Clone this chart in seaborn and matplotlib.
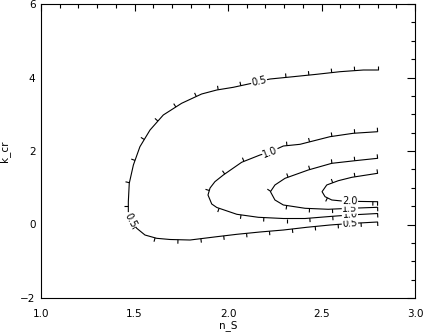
import numpy as np
import pandas as pd
import matplotlib
matplotlib.use("Agg")
import matplotlib.pyplot as plt
import seaborn as sns
from matplotlib.collections import LineCollection
from matplotlib.ticker import MultipleLocator

# ---- data: contour lines (n_S, k_cr) ----
levels = [0.5, 1.0, 1.5, 2.0]
level_labels = ["0.5", "1.0", "1.5", "2.0"]

c05_x = [2.800, 2.724, 2.599, 2.474, 2.349, 2.225, 2.166, 2.127, 2.028, 1.940, 1.859, 1.752,
         1.654, 1.583, 1.529, 1.494, 1.472, 1.467, 1.467, 1.481, 1.512, 1.556, 1.619, 1.690,
         1.797, 1.940, 2.047, 2.171, 2.296, 2.421, 2.545, 2.652, 2.800]
c05_y = [4.204, 4.204, 4.158, 4.087, 4.022, 3.959, 3.897, 3.842, 3.733, 3.660, 3.551, 3.298,
         2.980, 2.571, 2.117, 1.619, 1.121, 0.620, 0.348, 0.122, -0.103, -0.286, -0.376, -0.408,
         -0.422, -0.332, -0.267, -0.204, -0.150, -0.076, -0.014, 0.027, 0.068]

c10_x = [2.800, 2.670, 2.545, 2.385, 2.296, 2.225, 2.171, 2.073, 1.975, 1.930, 1.904, 1.893,
         1.913, 1.940, 2.047, 2.162, 2.296, 2.412, 2.545, 2.652, 2.800]
c10_y = [2.525, 2.482, 2.389, 2.182, 2.136, 1.973, 1.891, 1.693, 1.347, 1.165, 0.993, 0.803,
         0.558, 0.463, 0.278, 0.196, 0.163, 0.163, 0.218, 0.259, 0.299]

c15_x = [2.800, 2.679, 2.555, 2.429, 2.305, 2.251, 2.227, 2.251, 2.296, 2.412, 2.536, 2.652, 2.800]
c15_y = [1.801, 1.736, 1.665, 1.483, 1.257, 1.075, 0.893, 0.667, 0.531, 0.441, 0.414, 0.441, 0.468]

c20_x = [2.800, 2.662, 2.590, 2.528, 2.503, 2.519, 2.555, 2.608, 2.652, 2.800]
c20_y = [1.393, 1.284, 1.192, 1.075, 0.893, 0.757, 0.667, 0.640, 0.632, 0.620]

contour_x = [c05_x, c10_x, c15_x, c20_x]
contour_y = [c05_y, c10_y, c15_y, c20_y]
# vertex index where each inline label sits
label_idx = [[6, 19, 31], [5, 19], [11], [8]]

xticks = [1.0, 1.5, 2.0, 2.5, 3.0]
yticks = [-2, 0, 2, 4, 6]

# ---- build table ----
frames = []
for lev, xs, ys in zip(levels, contour_x, contour_y):
    frames.append(pd.DataFrame({"n_S": xs, "k_cr": ys, "level": lev,
                                "order": np.arange(len(xs))}))
df = pd.concat(frames, ignore_index=True)

sns.set_theme(style="white")
plt.rcParams["font.family"] = ["DejaVu Sans"]
plt.rcParams["axes.edgecolor"] = "black"
plt.rcParams["axes.linewidth"] = 0.8

fig = plt.figure(figsize=(4.23, 3.32), dpi=100)
ax = fig.add_axes([41 / 423, 34 / 332, 374 / 423, 294 / 332])

sns.lineplot(data=df, x="n_S", y="k_cr", units="level", estimator=None, sort=False,
             color="black", lw=0.8, legend=False, ax=ax)

ax.set_xlim(1.0, 3.0)
ax.set_ylim(-2, 6)
ax.set_xticks(xticks)
ax.set_xticklabels([f"{v:.1f}" for v in xticks])
ax.set_yticks(yticks)
ax.xaxis.set_minor_locator(MultipleLocator(0.1))
ax.yaxis.set_minor_locator(MultipleLocator(0.5))
ax.tick_params(axis="both", which="both", direction="in", top=True, right=True,
               color="black", width=0.8, labelsize=7.5, labelcolor="black")
ax.tick_params(axis="x", which="major", length=4.7, pad=8)
ax.tick_params(axis="x", which="minor", length=2.6)
ax.tick_params(axis="y", which="major", length=5.6, pad=4)
ax.tick_params(axis="y", which="minor", length=3.0)
for s in ax.spines.values():
    s.set_visible(True)
    s.set_color("black")
    s.set_linewidth(0.8)
ax.set_xlabel("n_S", fontsize=7.5, color="black", labelpad=1)
ax.set_ylabel("k_cr", fontsize=7.5, color="black")
ax.yaxis.set_label_coords(-0.082, 0.5)

# ---- downhill ticks along contours (computed in pixel space) ----
fig.canvas.draw()
to_pix = ax.transData
to_dat = ax.transData.inverted()
segs = []
spacing, tlen = 23.0, 4.0
for xs, ys in zip(contour_x, contour_y):
    P = to_pix.transform(np.column_stack([xs, ys]))
    d = np.diff(P, axis=0)
    seglen = np.hypot(d[:, 0], d[:, 1])
    cum = np.concatenate([[0], np.cumsum(seglen)])
    total = cum[-1]
    positions = list(np.arange(0, total, spacing)) + [total]
    for s in positions:
        i = min(np.searchsorted(cum, s, side="right") - 1, len(seglen) - 1)
        t = (s - cum[i]) / seglen[i]
        p = P[i] + t * d[i]
        u = d[i] / seglen[i]
        nrm = np.array([u[1], -u[0]])
        q = p + tlen * nrm
        segs.append(to_dat.transform(np.vstack([p, q])))
ax.add_collection(LineCollection(segs, colors="black", linewidths=0.8))

# ---- inline contour labels ----
for lab, xs, ys, idxs in zip(level_labels, contour_x, contour_y, label_idx):
    P = to_pix.transform(np.column_stack([xs, ys]))
    for i in idxs:
        a, b = P[max(i - 1, 0)], P[min(i + 1, len(P) - 1)]
        ang = np.degrees(np.arctan2(b[1] - a[1], b[0] - a[0]))
        if ang > 90:
            ang -= 180
        if ang < -90:
            ang += 180
        ax.text(xs[i], ys[i], lab, fontsize=7, rotation=ang, rotation_mode="anchor",
                ha="center", va="center", color="black", zorder=5,
                bbox=dict(boxstyle="square,pad=0.05", fc="white", ec="none"))

fig.savefig("out.png", dpi=100)
